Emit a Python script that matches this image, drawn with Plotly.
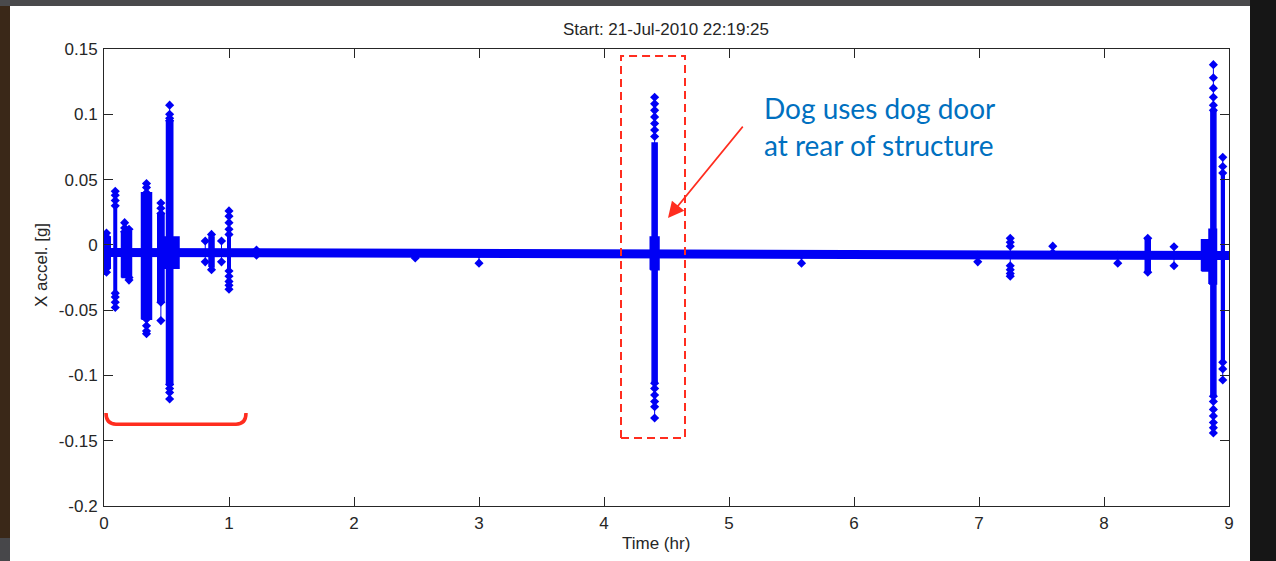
import plotly.graph_objects as go

# ---------------- data ----------------
x_ticks = [0, 1, 2, 3, 4, 5, 6, 7, 8, 9]
y_ticks = [-0.2, -0.15, -0.1, -0.05, 0, 0.05, 0.1, 0.15]
y_tick_text = ["-0.2", "-0.15", "-0.1", "-0.05", "0", "0.05", "0.1", "0.15"]

# quiet baseline of the record (hr, g)
base_t = [0, 1, 2, 3, 3.4, 4, 5, 6, 7, 8, 8.7, 9]
base_y = [-0.0058, -0.0060, -0.0062, -0.0064, -0.0074, -0.0077, -0.0079,
          -0.0080, -0.0080, -0.0080, -0.0080, -0.0082]

# dense cores of the bursts: start, end (hr) and envelope (g)
core_t0 = [0.00, 0.08, 0.14, 0.30, 0.43, 0.48, 0.50, 0.84, 0.99, 4.37, 4.385,
           8.33, 8.78, 8.84, 8.855, 8.94]
core_t1 = [0.05, 0.10, 0.22, 0.38, 0.48, 0.60, 0.55, 0.88, 1.01, 4.44, 4.425,
           8.37, 8.84, 8.90, 8.895, 8.962]
core_hi = [0.006, 0.030, 0.010, 0.040, 0.024, 0.006, 0.095, 0.006, 0.010,
           0.006, 0.078, 0.005, 0.004, 0.012, 0.103, 0.055]
core_lo = [-0.018, -0.037, -0.025, -0.057, -0.044, -0.018, -0.107, -0.017,
           -0.020, -0.019, -0.106, -0.021, -0.020, -0.030, -0.116, -0.090]

# individual sample peaks of each burst (hr, list of g values)
peak_t = [0.02, 0.09, 0.165, 0.20, 0.34, 0.455, 0.525, 0.81, 0.86, 0.94, 1.00,
          1.22, 2.49, 3.00, 4.405, 5.58, 6.99, 7.25, 7.59, 8.11, 8.35, 8.56,
          8.875, 8.95]
peak_vals = [
    [0.009, 0.006, -0.018, -0.021],
    [0.041, 0.038, 0.034, 0.030, -0.037, -0.040, -0.044, -0.048],
    [0.017, 0.013, 0.010],
    [0.012, -0.025, -0.027],
    [0.047, 0.044, 0.040, -0.057, -0.062, -0.066, -0.068],
    [0.032, 0.028, 0.024, -0.044, -0.058],
    [0.107, 0.100, 0.097, 0.095, -0.107, -0.110, -0.113, -0.118],
    [0.003, -0.013],
    [0.008, -0.019],
    [0.003, -0.013],
    [0.026, 0.022, 0.017, 0.012, 0.008, -0.020, -0.024, -0.028, -0.031, -0.034],
    [-0.004, -0.008],
    [-0.007, -0.010],
    [-0.007, -0.014],
    [0.113, 0.108, 0.103, 0.098, 0.093, 0.088, 0.083, -0.106, -0.110, -0.115,
     -0.120, -0.124, -0.1326],
    [-0.008, -0.014],
    [-0.008, -0.013],
    [0.005, 0.002, -0.001, -0.016, -0.019, -0.022, -0.024],
    [-0.001, -0.006],
    [-0.008, -0.014],
    [0.005, -0.021],
    [-0.0015, -0.016],
    [0.138, 0.128, 0.120, 0.113, 0.107, 0.103, -0.116, -0.120, -0.126, -0.131,
     -0.136, -0.140, -0.144],
    [0.067, 0.060, 0.055, -0.090, -0.095, -0.1035],
]

# ---------------- figure ----------------
BLUE = "#0000F5"
RED = "#FF2D1F"
AX = "#262626"
FONT = "Liberation Sans, Arial, sans-serif"
FS = 17

fig = go.Figure()

# baseline band
fig.add_trace(go.Scatter(x=base_t, y=base_y, mode="lines",
                         line=dict(color=BLUE, width=9), hoverinfo="skip",
                         showlegend=False))

# burst cores as filled blocks
cx, cy = [], []
for t0, t1, hi, lo in zip(core_t0, core_t1, core_hi, core_lo):
    cx += [t0, t0, t1, t1, t0, None]
    cy += [lo, hi, hi, lo, lo, None]
fig.add_trace(go.Scatter(x=cx, y=cy, mode="lines", fill="toself",
                         fillcolor=BLUE, line=dict(color=BLUE, width=1.5),
                         hoverinfo="skip", showlegend=False))

# sample peaks with connecting line
px_, py_ = [], []
for t, vals in zip(peak_t, peak_vals):
    for v in vals:
        px_.append(t)
        py_.append(v)
    px_.append(None)
    py_.append(None)
fig.add_trace(go.Scatter(x=px_, y=py_, mode="lines+markers",
                         line=dict(color=BLUE, width=1),
                         marker=dict(symbol="diamond", size=7, color=BLUE),
                         hoverinfo="skip", showlegend=False))

# ---------------- slide frame (outside the axes) ----------------
def paper_x(p):
    return (p - 104) / 1125.0


def paper_y(p):
    return (506 - p) / 457.0


frame = [
    (0, 0, 1252, 6, "#4a4a4c"),
    (0, 6, 10, 538, "#3a2818"),
    (0, 538, 10, 561, "#47474a"),
    (1250, 0, 1276, 561, "#161616"),
]
for x0, y0, x1, y1, col in frame:
    fig.add_shape(type="rect", xref="paper", yref="paper",
                  x0=paper_x(x0), x1=paper_x(x1), y0=paper_y(y1), y1=paper_y(y0),
                  fillcolor=col, line=dict(width=0), layer="above")

# red dashed box around the dog-door event
fig.add_shape(type="rect", xref="x", yref="y", x0=4.136, x1=4.648,
              y0=-0.148, y1=0.1446,
              line=dict(color=RED, width=2, dash="8px,5px"),
              fillcolor="rgba(0,0,0,0)", layer="above")

# red bracket under the first hour
fig.add_shape(type="path", xref="x", yref="y",
              path="M 0.016,-0.1288 Q 0.016,-0.1373 0.096,-0.1373 "
                   "L 1.056,-0.1373 Q 1.136,-0.1373 1.136,-0.1288",
              line=dict(color=RED, width=3.5), layer="above")

# arrow
fig.add_annotation(x=4.512, y=0.0205, ax=5.12, ay=0.0917, axref="x", ayref="y",
                   xref="x", yref="y", text="", showarrow=True, arrowhead=2,
                   arrowsize=2.0, arrowwidth=1.6, arrowcolor=RED)

# callout text
CALLOUT = dict(family="Lato, Open Sans, sans-serif", size=28, color="#0070C0")
fig.add_annotation(x=5.265, y=0.1047, xref="x", yref="y", xanchor="left",
                   yanchor="middle", showarrow=False, text="Dog uses dog door",
                   font=CALLOUT)
fig.add_annotation(x=5.265, y=0.0764, xref="x", yref="y", xanchor="left",
                   yanchor="middle", showarrow=False, text="at rear of structure",
                   font=CALLOUT)

# title and axis titles
fig.add_annotation(x=0.4996, y=paper_y(30), xref="paper", yref="paper",
                   showarrow=False, text="Start: 21-Jul-2010 22:19:25",
                   font=dict(family=FONT, size=FS, color=AX),
                   xanchor="center", yanchor="middle")
fig.add_annotation(x=paper_x(656), y=paper_y(543), xref="paper", yref="paper",
                   showarrow=False, text="Time (hr)",
                   font=dict(family=FONT, size=FS, color=AX),
                   xanchor="center", yanchor="middle")
fig.add_annotation(x=paper_x(41), y=paper_y(265), xref="paper", yref="paper",
                   showarrow=False, text="X accel. [g]", textangle=-90,
                   font=dict(family=FONT, size=FS, color=AX),
                   xanchor="center", yanchor="middle")

axis_common = dict(showline=True, linecolor=AX, linewidth=1, mirror="ticks",
                   ticks="inside", ticklen=9, tickcolor=AX, tickwidth=1,
                   showgrid=False, zeroline=False, ticklabelstandoff=2,
                   tickfont=dict(family=FONT, size=FS, color=AX))

fig.update_xaxes(range=[0, 9], tickvals=x_ticks, **axis_common)
fig.update_yaxes(range=[-0.2, 0.15], tickvals=y_ticks, ticktext=y_tick_text,
                 **axis_common)

fig.update_layout(width=1276, height=561,
                  margin=dict(l=104, r=47, t=49, b=55, pad=0),
                  paper_bgcolor="white", plot_bgcolor="white",
                  showlegend=False)

fig.write_html("out.html",
               config={"displayModeBar": False},
               post_script="document.body.style.margin='0';"
                           "document.body.style.overflow='hidden';")
